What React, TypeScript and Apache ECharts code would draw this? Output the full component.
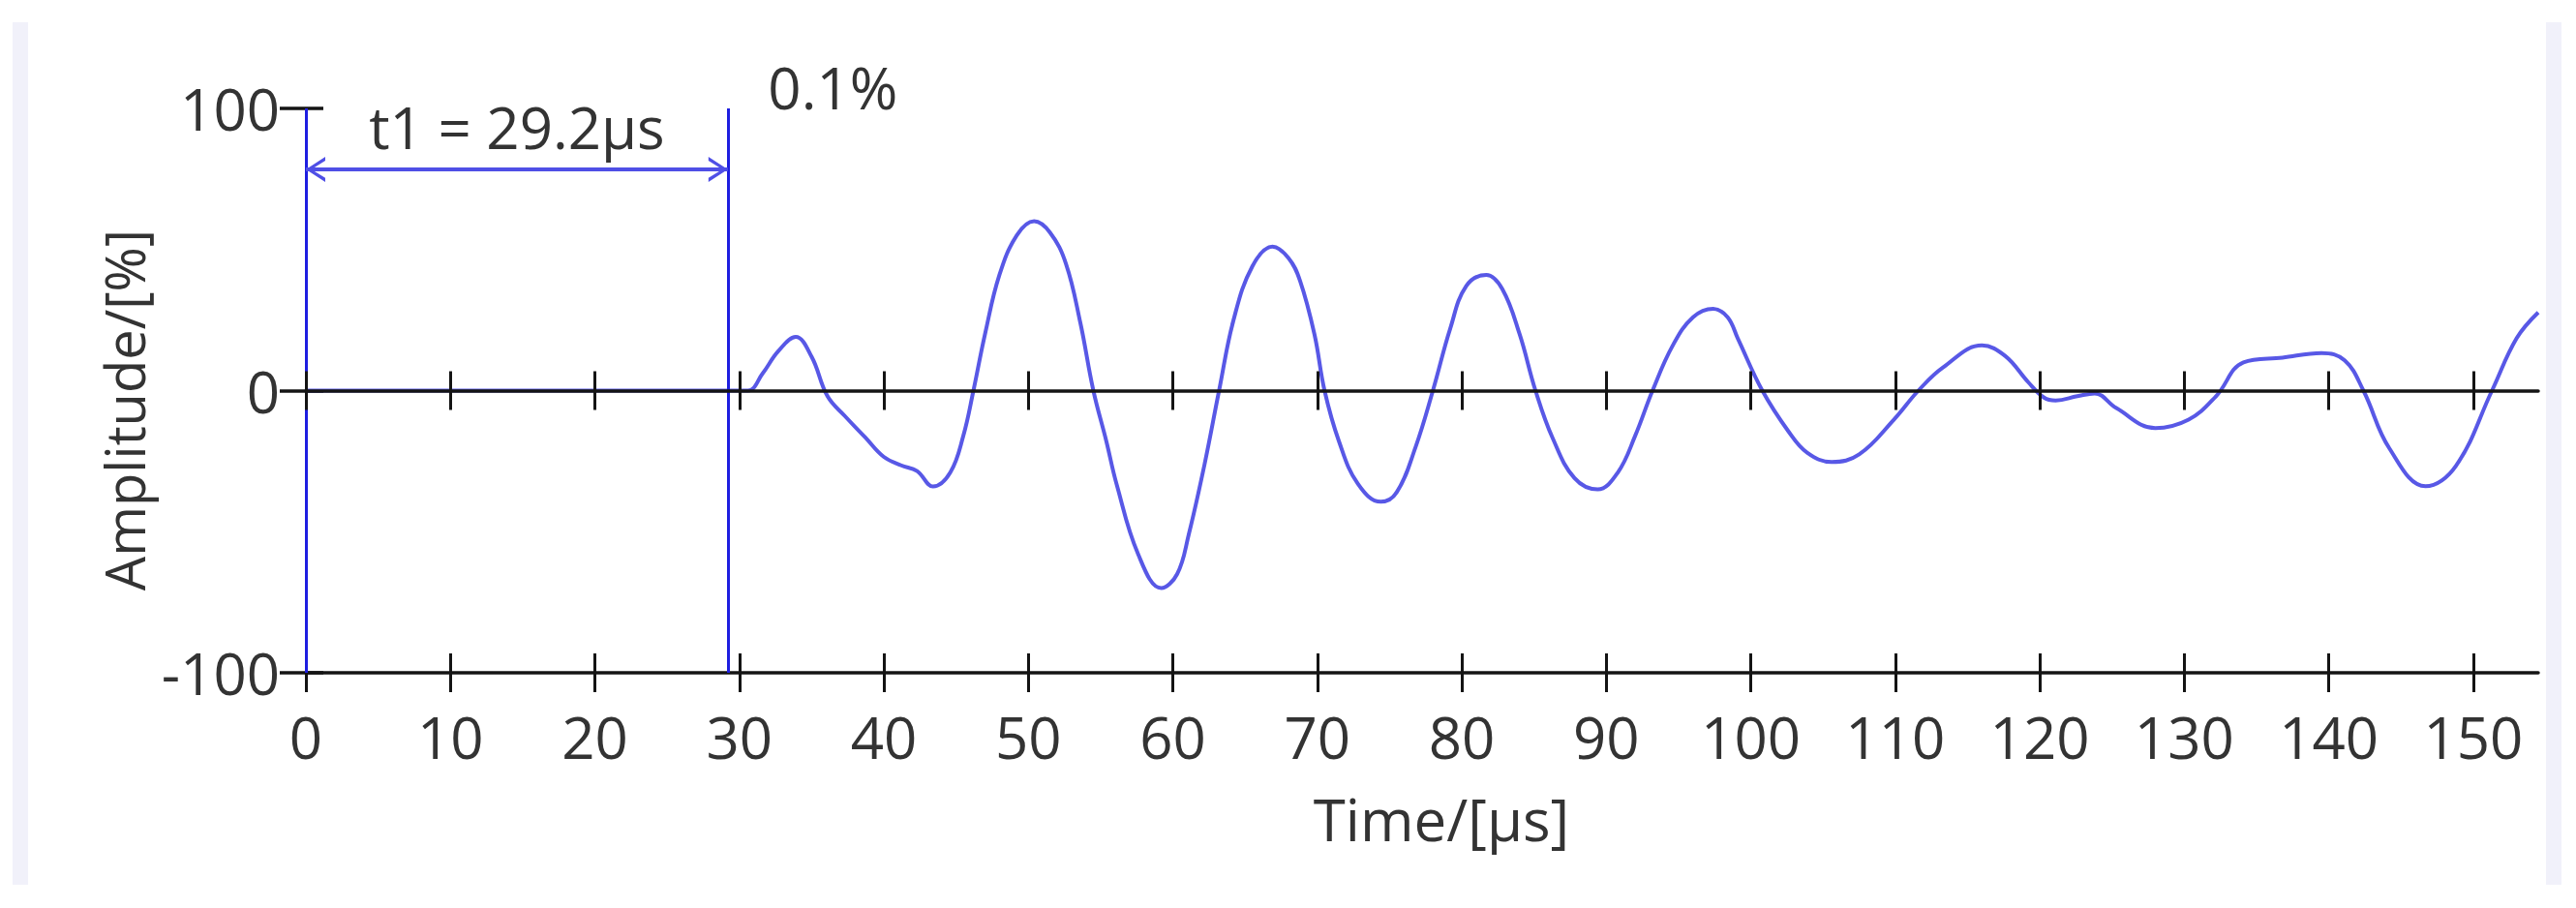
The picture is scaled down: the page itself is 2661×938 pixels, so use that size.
import React, { useEffect, useRef } from "react";
import * as echarts from "echarts";

// ---- data ----
const timeUs = [
  0, 29.2, 30.6, 31.6, 32.7, 33.9, 35.0, 36.1, 37.3, 38.7,
  40.0, 41.2, 42.3, 43.4, 44.6, 45.5, 46.2, 47.0, 48.0, 49.2,
  50.4, 51.5, 52.6, 53.6, 54.5, 55.4, 56.1, 57.6, 59.2, 60.3,
  61.1, 62.2, 63.2, 64.2, 65.5, 66.9, 68.0, 68.8, 69.8, 70.5,
  71.5, 72.8, 74.4, 75.5, 76.8, 78.0, 79.2, 80.3, 81.7, 82.8,
  84.0, 85.1, 86.3, 87.8, 89.4, 90.8, 92.0, 93.2, 94.6, 96.0,
  97.4, 98.4, 99.1, 100.8, 102.6, 103.9, 105.6, 107.5, 109.9, 111.6,
  113.3, 116.0, 117.6, 119.2, 120.3, 121.1, 122.6, 123.8, 125.3, 128.0,
  130.3, 132.2, 134.1, 136.8, 139.5, 141.1, 142.4, 144.2, 146.7, 148.8,
  151.3, 153.0, 154.5,
];
const amplitude = [
  0, 0, 0, 6, 14, 19, 12, -2, -9, -16.5,
  -23.5, -26.5, -28.5, -34, -29, -16, 0, 20, 41, 55,
  60, 56, 45, 24, 0, -18, -33, -58, -70, -65,
  -51, -26, 0, 25, 44, 51, 47, 39, 20, 0,
  -18, -33, -39.4, -36, -20, 0, 22, 37, 41, 36,
  20, 0, -17, -31, -35, -29, -16, 0, 16, 26,
  29, 26, 18.5, 0, -14.4, -22, -25.3, -22.6, -10.3, 0,
  8.2, 16, 12.3, 3, -2.5, -3.5, -2, -1, -6.2, -13.3,
  -10.3, -2, 10, 11.7, 13.3, 10.7, 0, -20.5, -33.9, -26.7,
  0, 18.5, 27.7,
];
const xTickValues = [0, 10, 20, 30, 40, 50, 60, 70, 80, 90, 100, 110, 120, 130, 140, 150];
const X_MIN = 0;
const X_MAX = 154.5;
const Y_MIN = -100;
const Y_MAX = 100;
const T1 = 29.2;
const ARROW_LEVEL = 78.4;
const THRESHOLD_LEVEL = 100;
const t1Label = "t1 = 29.2µs";
const thresholdLabel = "0.1%";
const xName = "Time/[µs]";
const yName = "Amplitude/[%]";

// ---- style ----
const FONT = '"Open Sans", "Noto Sans", sans-serif';
const FS = 60;
const TEXT = "#333333";
const AXIS = "#141414";
const GRID = { left: 316, top: 112, width: 2306, height: 583 };
const CHEVRON = "path://M5,0 L10,10 L8.4,10 L5,2.8 L1.6,10 L0,10 Z M5,-10 L5.01,-10 L5,-9.99 Z";

export default function App() {
  const ref = useRef<HTMLDivElement>(null);
  useEffect(() => {
    if (!ref.current) return;
    const chart = echarts.init(ref.current, null, { renderer: "svg" });
    const tickStyle = { color: AXIS, width: 3 };
    const baseX = {
      type: "value" as const,
      min: X_MIN,
      max: X_MAX,
      interval: 10,
      position: "bottom" as const,
      splitLine: { show: false },
    };
    chart.setOption({
      animation: false,
      backgroundColor: "#ffffff",
      grid: { ...GRID, containLabel: false, outerBoundsMode: "none" },
      graphic: [
        { type: "rect", shape: { x: 13, y: 23, width: 16, height: 891 }, style: { fill: "#f1f1fa" }, silent: true },
        { type: "rect", shape: { x: 2630, y: 23, width: 16, height: 891 }, style: { fill: "#f1f1fa" }, silent: true },
      ],
      xAxis: [
        {
          ...baseX,
          axisLine: { show: true, onZero: false, lineStyle: { color: AXIS, width: 3.5 } },
          axisTick: { show: true, inside: false, length: 20, customValues: xTickValues, lineStyle: tickStyle },
          axisLabel: { show: true, customValues: xTickValues, margin: 36, color: TEXT, fontSize: FS, fontFamily: FONT },
          name: xName,
          nameLocation: "middle",
          nameGap: 121,
          nameTextStyle: { color: TEXT, fontSize: 60, fontFamily: FONT, padding: [0, 0, 0, 40] },
        },
        {
          ...baseX,
          axisLine: { show: false, onZero: false },
          axisTick: { show: true, inside: true, length: 20, customValues: xTickValues, lineStyle: tickStyle },
          axisLabel: { show: false },
        },
        {
          ...baseX,
          offset: -GRID.height / 2,
          z: 5,
          axisLine: { show: true, onZero: false, lineStyle: { color: AXIS, width: 3.5 } },
          axisTick: { show: true, inside: false, length: 20, customValues: xTickValues, lineStyle: tickStyle },
          axisLabel: { show: false },
        },
        {
          ...baseX,
          offset: -GRID.height / 2,
          z: 5,
          axisLine: { show: false, onZero: false },
          axisTick: { show: true, inside: true, length: 20, customValues: xTickValues, lineStyle: tickStyle },
          axisLabel: { show: false },
        },
      ],
      yAxis: {
        type: "value",
        min: Y_MIN,
        max: Y_MAX,
        interval: 100,
        position: "left",
        offset: -18,
        splitLine: { show: false },
        axisLine: { show: false, onZero: false },
        axisTick: { show: true, length: 45, lineStyle: { color: AXIS, width: 3.5 } },
        axisLabel: { margin: 45, color: TEXT, fontSize: FS, fontFamily: FONT },
        name: yName,
        nameLocation: "middle",
        nameRotate: 90,
        nameGap: 178,
        nameTextStyle: { color: TEXT, fontSize: 56, fontFamily: FONT, padding: [0, 40, 0, 0] },
      },
      series: [
        {
          type: "line",
          xAxisIndex: 0,
          yAxisIndex: 0,
          data: timeUs.map((t, i) => [t, amplitude[i]]),
          showSymbol: false,
          smooth: 0.4,
          silent: true,
          lineStyle: { color: "#5858e6", width: 4 },
          z: 2,
          markLine: {
            silent: true,
            animation: false,
            symbol: "none",
            data: [
              { xAxis: 0, lineStyle: { color: "#1e1ee0", width: 3, type: "solid" }, label: { show: false } },
              { xAxis: T1, lineStyle: { color: "#1e1ee0", width: 3, type: "solid" }, label: { show: false } },
              [
                {
                  coord: [0, ARROW_LEVEL],
                  symbol: CHEVRON,
                  symbolSize: [26, 40],
                  lineStyle: { color: "#4f4fe6", width: 4, type: "solid" },
                  label: {
                    show: true,
                    position: "insideMiddleTop",
                    distance: 14,
                    formatter: t1Label,
                    color: TEXT,
                    fontSize: FS,
                    fontFamily: FONT,
                  },
                },
                { coord: [T1, ARROW_LEVEL], symbol: CHEVRON, symbolSize: [26, 40] },
              ],
            ],
          },
          markPoint: {
            silent: true,
            animation: false,
            data: [
              {
                coord: [T1, THRESHOLD_LEVEL],
                symbol: "circle",
                symbolSize: 1,
                itemStyle: { color: "rgba(0,0,0,0)" },
                label: {
                  show: true,
                  position: "right",
                  distance: 41,
                  offset: [0, -22],
                  formatter: thresholdLabel,
                  color: TEXT,
                  fontSize: FS,
                  fontFamily: FONT,
                },
              },
            ],
          },
        },
      ],
    });
    return () => chart.dispose();
  }, []);
  return (
    <div
      ref={ref}
      style={{ position: "absolute", left: 0, top: 0, width: 2661, height: 938, background: "#fff" }}
    />
  );
}
